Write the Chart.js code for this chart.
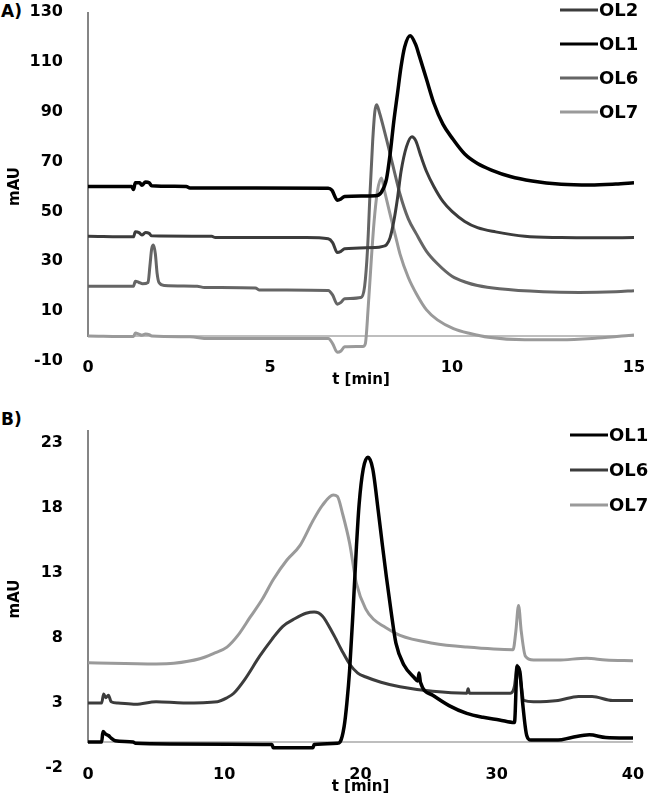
<!DOCTYPE html>
<html lang="en">
<head>
  <meta charset="UTF-8" />
  <title>Chromatograms OL1 / OL2 / OL6 / OL7</title>
  <script src="https://cdn.jsdelivr.net/npm/chart.js@4/dist/chart.umd.min.js"></script>
  <style>
    body { margin: 0; background: #fff; width: 649px; height: 806px; position: relative; overflow: hidden; }
    .panel { position: absolute; left: 0; }
    .tag { position: absolute; left: 1px; font: bold 17px "DejaVu Sans", sans-serif; color: #000; }
  </style>
</head>
<body>
  <div class="tag" style="top: 1px;">A)</div>
  <div class="panel" style="top: 0;"><canvas id="chartA" width="649" height="400"></canvas></div>
  <div class="tag" style="top: 409px;">B)</div>
  <div class="panel" style="top: 405px;"><canvas id="chartB" width="649" height="401"></canvas></div>

  <script>
    // ---- panel A : t [min] / mAU ----
    const xTicksA = [0, 5, 10, 15];
    const yTicksA = [-10, 10, 30, 50, 70, 90, 110, 130];

    const a_t_OL2 = [0, 1.25, 1.3, 1.4, 1.48, 1.58, 1.68, 1.75, 3.4, 3.5, 6.0, 6.6, 6.72, 6.85, 6.95, 7.05, 7.9, 8.1, 8.2, 8.3, 8.4, 8.5, 8.6, 8.75, 8.9, 9.0, 9.15, 9.3, 9.5, 9.75, 10.0, 10.35, 10.7, 11.2, 12.0, 13.0, 14.0, 15];
    const a_v_OL2 = [40, 39.8, 41.8, 41.5, 40.5, 41.5, 41.2, 40.2, 40, 39.5, 39.5, 39, 37.5, 33.5, 34, 35, 35.5, 36, 36.6, 39.5, 46, 55, 66, 76, 80, 78.5, 72, 66, 60, 54, 50, 46, 43.5, 41.8, 40, 39.5, 39.4, 39.5];

    const a_t_OL1 = [0, 1.2, 1.25, 1.3, 1.42, 1.48, 1.58, 1.68, 1.75, 2.7, 2.8, 6.6, 6.7, 6.85, 6.95, 7.05, 7.9, 8.05, 8.2, 8.3, 8.4, 8.5, 8.6, 8.7, 8.85, 9.0, 9.1, 9.3, 9.5, 9.75, 10.0, 10.35, 10.7, 11.1, 11.6, 12.2, 13.0, 13.8, 14.5, 15];
    const a_v_OL1 = [60, 60, 58.8, 61.5, 61.5, 60.5, 61.8, 61.5, 60.3, 60, 59.4, 59.3, 58.5, 54.5, 55, 56, 56.3, 57.5, 63, 73, 86, 97, 108, 116, 120.5, 117, 112.5, 103, 93.5, 85, 79.5, 73, 69.2, 66.5, 64, 62.2, 60.9, 60.6, 61, 61.5];

    const a_t_OL6 = [0, 1.25, 1.3, 1.4, 1.5, 1.65, 1.7, 1.75, 1.8, 1.85, 1.9, 1.95, 2.1, 3.0, 3.2, 4.6, 4.7, 6.6, 6.72, 6.85, 6.95, 7.05, 7.5, 7.6, 7.68, 7.75, 7.82, 7.88, 7.93, 8.0, 8.2, 8.4, 8.57, 8.8, 9.02, 9.3, 9.6, 10.0, 10.4, 10.7, 11.3, 12.5, 13.5, 14.5, 15];
    const a_v_OL6 = [20, 20, 22, 21.5, 21, 21.5, 28, 35, 36.5, 33, 25, 21.5, 20.3, 20, 19.5, 19.3, 18.5, 18.3, 16.5, 12.8, 13.5, 15, 15.5, 20, 35, 58, 78, 90, 92.8, 90, 79, 67, 57, 47, 41, 34, 29, 24, 21.5, 20.3, 19, 17.8, 17.5, 17.8, 18.2];

    const a_t_OL7 = [0, 1.25, 1.3, 1.4, 1.48, 1.58, 1.68, 1.75, 2.8, 3.3, 6.6, 6.72, 6.85, 6.95, 7.05, 7.55, 7.62, 7.7, 7.78, 7.86, 7.95, 8.06, 8.15, 8.29, 8.45, 8.57, 8.8, 9.02, 9.3, 9.6, 10.04, 10.5, 11.0, 12.0, 13.0, 14.0, 15];
    const a_v_OL7 = [0, -0.2, 1.2, 0.8, 0.3, 0.8, 0.6, 0, -0.3, -1, -1, -3, -6.5, -6, -4.3, -4.2, -3, 12, 30, 46, 58, 63.4, 58, 49.4, 40, 33, 23.5, 17, 10.5, 6.5, 3, 1, -0.5, -1.5, -1.5, -0.8, 0.4];

    // ---- panel B ----
    const xTicksB = [0, 10, 20, 30, 40];
    const yTicksB = [-2, 3, 8, 13, 18, 23];

    const b_t_OL1 = [0, 1.0, 1.1, 1.3, 1.5, 1.7, 2.0, 3.3, 3.5, 6.0, 13.5, 13.6, 16.5, 16.6, 18.3, 18.5, 18.8, 19.0, 19.2, 19.45, 19.7, 19.9, 20.2, 20.55, 20.9, 21.3, 21.6, 21.9, 22.25, 22.6, 23.2, 23.9, 24.2, 24.3, 24.4, 25.3, 26.5, 27.8, 29.0, 30.2, 31.3, 31.5, 31.7, 31.9, 32.2, 32.5, 34.5, 35.5, 36.8, 38.0, 40];
    const b_v_OL1 = [0, 0, 0.8, 0.6, 0.5, 0.3, 0.1, 0, -0.1, -0.15, -0.2, -0.45, -0.45, -0.2, -0.1, 0, 1.2, 3, 5.5, 10, 15, 18.3, 21, 21.9, 21, 17.8, 15.2, 12.7, 10, 7.6, 5.9, 5.0, 4.7, 5.3, 4.6, 3.6, 2.8, 2.2, 1.9, 1.7, 1.5, 5.8, 5.4, 3, 0.5, 0.15, 0.15, 0.35, 0.55, 0.35, 0.3];

    const b_t_OL6 = [0, 1.0, 1.15, 1.3, 1.5, 1.7, 2.2, 3.5, 5.0, 7.0, 9.5, 10.2, 10.7, 11.5, 12.6, 13.5, 14.3, 15.2, 16.0, 16.6, 17.2, 18.0, 18.6, 19.2, 19.8, 20.4, 21.5, 22.9, 25.3, 27.8, 27.9, 28.0, 31.0, 31.3, 31.5, 31.7, 32.0, 32.7, 34.5, 36.0, 37.0, 38.5, 40];
    const b_v_OL6 = [3, 3, 3.7, 3.4, 3.6, 3.1, 3.0, 2.9, 3.1, 3.0, 3.1, 3.4, 3.75, 4.8, 6.6, 7.9, 8.9, 9.5, 9.9, 10.0, 9.7, 8.3, 7.1, 6.0, 5.3, 5.0, 4.6, 4.25, 3.9, 3.75, 4.1, 3.75, 3.75, 4.3, 5.9, 5.0, 3.2, 3.1, 3.2, 3.5, 3.5, 3.2, 3.2];

    const b_t_OL7 = [0, 5.0, 6.3, 8.2, 9.2, 10.2, 11.0, 11.9, 12.8, 13.6, 14.6, 15.55, 16.5, 17.2, 18.0, 18.3, 18.7, 19.2, 19.7, 20.4, 21.0, 21.7, 22.9, 25.3, 27.8, 31.2, 31.4, 31.6, 31.8, 32.1, 32.7, 34.5, 36.6, 38.0, 40];
    const b_v_OL7 = [6.1, 6.0, 6.05, 6.4, 6.8, 7.3, 8.2, 9.6, 11.0, 12.5, 14.0, 15.1, 17.0, 18.2, 19.0, 18.9, 17.5, 15.3, 12.2, 10.2, 9.4, 8.9, 8.2, 7.6, 7.3, 7.1, 8.5, 10.5, 8.5, 6.6, 6.3, 6.3, 6.45, 6.3, 6.25];

    const pts = (ts, vs) => ts.map((t, i) => ({ x: t, y: vs[i] }));
    const FONT = '"DejaVu Sans", sans-serif';

    function series(label, ts, vs, color, width) {
      return {
        label, data: pts(ts, vs),
        borderColor: color, backgroundColor: color,
        borderWidth: width || 3, pointRadius: 0,
        cubicInterpolationMode: 'monotone', fill: false
      };
    }

    // axis lines like the original: y axis down to zero, x axis line at y = 0
    const axisLines = {
      id: 'axisLines',
      beforeDatasetsDraw(chart) {
        const { ctx, chartArea: a, scales: { y } } = chart;
        const y0 = y.getPixelForValue(0);
        ctx.save();
        ctx.lineWidth = 1.5;
        ctx.strokeStyle = '#a8a8a8';
        ctx.beginPath();
        ctx.moveTo(a.left, y0);
        ctx.lineTo(a.right, y0);
        ctx.stroke();
        ctx.lineWidth = 2;
        ctx.strokeStyle = '#858585';
        ctx.beginPath();
        ctx.moveTo(a.left, a.top);
        ctx.lineTo(a.left, y0 + 1);
        ctx.stroke();
        ctx.restore();
      }
    };

    // legend in the upper right: short line + bold label
    const sideLegend = {
      id: 'sideLegend',
      afterDraw(chart, args, opts) {
        const ctx = chart.ctx;
        ctx.save();
        ctx.font = 'bold 18px ' + FONT;
        ctx.textBaseline = 'middle';
        ctx.textAlign = 'left';
        chart.data.datasets.forEach((ds, i) => {
          const y = opts.y + i * opts.gap;
          ctx.strokeStyle = ds.borderColor;
          ctx.lineWidth = 3;
          ctx.beginPath();
          ctx.moveTo(opts.x, y);
          ctx.lineTo(opts.x + 38, y);
          ctx.stroke();
          ctx.fillStyle = '#000';
          ctx.fillText(ds.label, opts.x + 39, y + 1);
        });
        ctx.restore();
      }
    };

    function makeChart(id, datasets, cfg) {
      return new Chart(document.getElementById(id), {
        type: 'line',
        data: { datasets },
        plugins: [axisLines, sideLegend],
        options: {
          responsive: false,
          animation: false,
          layout: { padding: { left: 0, right: cfg.padRight, top: cfg.padTop, bottom: 0 } },
          plugins: {
            legend: { display: false },
            tooltip: { enabled: false },
            sideLegend: cfg.legend
          },
          scales: {
            x: {
              type: 'linear', min: cfg.xTicks[0], max: cfg.xTicks[cfg.xTicks.length - 1],
              afterBuildTicks: s => { s.ticks = cfg.xTicks.map(v => ({ value: v })); },
              afterFit: s => { s.height = cfg.xHeight; },
              grid: { display: false },
              border: { display: false },
              // mirror only switches off label clipping here, so the labels can sit level with the lowest y tick
              ticks: { color: '#000', font: { family: FONT, weight: 'bold', size: 16 }, padding: -16, maxRotation: 0, mirror: true },
              title: { display: true, text: 't [min]', color: '#000', font: { family: FONT, weight: 'bold', size: 15 }, padding: { top: 0, bottom: cfg.titlePad } }
            },
            y: {
              min: cfg.yMin, max: cfg.yMax,
              afterBuildTicks: s => { s.ticks = cfg.yTicks.map(v => ({ value: v })); },
              afterFit: s => { s.width = 88; s.paddingTop = 0; s.paddingBottom = 0; },
              grid: { display: false },
              border: { display: false },
              ticks: { color: '#000', font: { family: FONT, weight: 'bold', size: 16 }, padding: 17 },
              title: { display: true, text: 'mAU', color: '#000', font: { family: FONT, weight: 'bold', size: 15 }, padding: { top: 6, bottom: 0 } }
            }
          }
        }
      });
    }

    makeChart('chartA', [
      series('OL2', a_t_OL2, a_v_OL2, '#3c3c3c'),
      series('OL1', a_t_OL1, a_v_OL1, '#000000', 3.5),
      series('OL6', a_t_OL6, a_v_OL6, '#656565'),
      series('OL7', a_t_OL7, a_v_OL7, '#9a9a9a')
    ], {
      xTicks: xTicksA, yTicks: yTicksA, yMin: -10, yMax: 130,
      padTop: 12, padRight: 15, xHeight: 39, titlePad: 11,
      legend: { x: 560, y: 10, gap: 34 }
    });

    makeChart('chartB', [
      series('OL1', b_t_OL1, b_v_OL1, '#000000', 3.5),
      series('OL6', b_t_OL6, b_v_OL6, '#3c3c3c'),
      series('OL7', b_t_OL7, b_v_OL7, '#9a9a9a')
    ], {
      xTicks: xTicksB, yTicks: yTicksB, yMin: -2, yMax: 24,
      padTop: 25, padRight: 16, xHeight: 38, titlePad: 10,
      legend: { x: 570, y: 30, gap: 35 }
    });
  </script>
</body>
</html>
